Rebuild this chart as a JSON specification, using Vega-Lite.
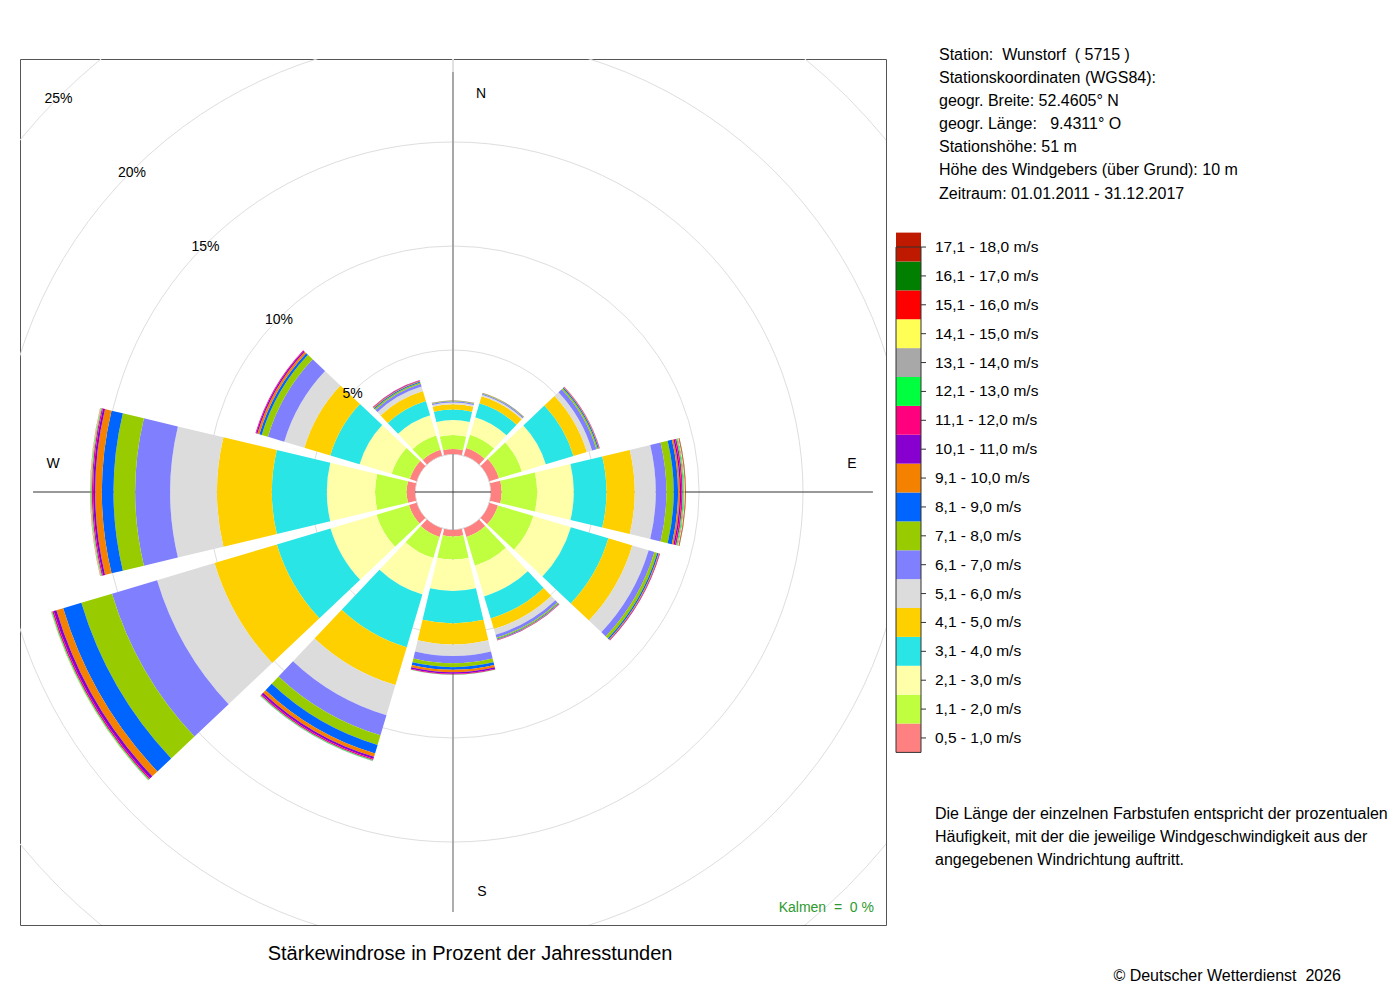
{
  "$schema": "https://vega.github.io/schema/vega-lite/v6.json",
  "width": 866,
  "height": 866,
  "autosize": {"type": "none"},
  "padding": {"left": 20, "top": 59, "right": 514, "bottom": 75},
  "background": "white",
  "datasets": {
    "classes": [
      {"cls": 0, "label": "0,5 - 1,0 m/s"},
      {"cls": 1, "label": "1,1 - 2,0 m/s"},
      {"cls": 2, "label": "2,1 - 3,0 m/s"},
      {"cls": 3, "label": "3,1 - 4,0 m/s"},
      {"cls": 4, "label": "4,1 - 5,0 m/s"},
      {"cls": 5, "label": "5,1 - 6,0 m/s"},
      {"cls": 6, "label": "6,1 - 7,0 m/s"},
      {"cls": 7, "label": "7,1 - 8,0 m/s"},
      {"cls": 8, "label": "8,1 - 9,0 m/s"},
      {"cls": 9, "label": "9,1 - 10,0 m/s"},
      {"cls": 10, "label": "10,1 - 11,0 m/s"},
      {"cls": 11, "label": "11,1 - 12,0 m/s"},
      {"cls": 12, "label": "12,1 - 13,0 m/s"},
      {"cls": 13, "label": "13,1 - 14,0 m/s"},
      {"cls": 14, "label": "14,1 - 15,0 m/s"},
      {"cls": 15, "label": "15,1 - 16,0 m/s"},
      {"cls": 16, "label": "16,1 - 17,0 m/s"},
      {"cls": 17, "label": "17,1 - 18,0 m/s"}
    ],
    "rose": [
      {"dir": 0, "cls": 0, "pct": 0.24}, {"dir": 0, "cls": 1, "pct": 0.67}, {"dir": 0, "cls": 2, "pct": 0.72}, {"dir": 0, "cls": 3, "pct": 0.51}, {"dir": 0, "cls": 4, "pct": 0.25},
      {"dir": 0, "cls": 5, "pct": 0.08}, {"dir": 0, "cls": 6, "pct": 0.06}, {"dir": 0, "cls": 7, "pct": 0.024}, {"dir": 0, "cls": 8, "pct": 0.014}, {"dir": 0, "cls": 9, "pct": 0.01},
      {"dir": 30, "cls": 0, "pct": 0.38}, {"dir": 30, "cls": 1, "pct": 0.67}, {"dir": 30, "cls": 2, "pct": 0.87}, {"dir": 30, "cls": 3, "pct": 0.70}, {"dir": 30, "cls": 4, "pct": 0.36},
      {"dir": 30, "cls": 5, "pct": 0.07}, {"dir": 30, "cls": 6, "pct": 0.05}, {"dir": 30, "cls": 7, "pct": 0.024}, {"dir": 30, "cls": 8, "pct": 0.014}, {"dir": 30, "cls": 9, "pct": 0.01},
      {"dir": 60, "cls": 0, "pct": 0.48}, {"dir": 60, "cls": 1, "pct": 1.15}, {"dir": 60, "cls": 2, "pct": 1.20}, {"dir": 60, "cls": 3, "pct": 1.39}, {"dir": 60, "cls": 4, "pct": 0.67},
      {"dir": 60, "cls": 5, "pct": 0.26}, {"dir": 60, "cls": 6, "pct": 0.22}, {"dir": 60, "cls": 7, "pct": 0.07}, {"dir": 60, "cls": 8, "pct": 0.05}, {"dir": 60, "cls": 9, "pct": 0.024},
      {"dir": 60, "cls": 10, "pct": 0.014}, {"dir": 60, "cls": 11, "pct": 0.01},
      {"dir": 90, "cls": 0, "pct": 0.51}, {"dir": 90, "cls": 1, "pct": 1.71}, {"dir": 90, "cls": 2, "pct": 1.76}, {"dir": 90, "cls": 3, "pct": 1.57}, {"dir": 90, "cls": 4, "pct": 1.36},
      {"dir": 90, "cls": 5, "pct": 1.01}, {"dir": 90, "cls": 6, "pct": 0.51}, {"dir": 90, "cls": 7, "pct": 0.35}, {"dir": 90, "cls": 8, "pct": 0.21}, {"dir": 90, "cls": 9, "pct": 0.08},
      {"dir": 90, "cls": 10, "pct": 0.07}, {"dir": 90, "cls": 11, "pct": 0.07}, {"dir": 90, "cls": 12, "pct": 0.05}, {"dir": 90, "cls": 13, "pct": 0.04}, {"dir": 90, "cls": 14, "pct": 0.024},
      {"dir": 90, "cls": 15, "pct": 0.024}, {"dir": 90, "cls": 16, "pct": 0.01}, {"dir": 90, "cls": 17, "pct": 0.01},
      {"dir": 120, "cls": 0, "pct": 0.43}, {"dir": 120, "cls": 1, "pct": 1.78}, {"dir": 120, "cls": 2, "pct": 1.88}, {"dir": 120, "cls": 3, "pct": 1.88}, {"dir": 120, "cls": 4, "pct": 1.20},
      {"dir": 120, "cls": 5, "pct": 0.82}, {"dir": 120, "cls": 6, "pct": 0.29}, {"dir": 120, "cls": 7, "pct": 0.14}, {"dir": 120, "cls": 8, "pct": 0.07}, {"dir": 120, "cls": 9, "pct": 0.04},
      {"dir": 120, "cls": 10, "pct": 0.024}, {"dir": 120, "cls": 11, "pct": 0.01},
      {"dir": 150, "cls": 0, "pct": 0.43}, {"dir": 150, "cls": 1, "pct": 1.44}, {"dir": 150, "cls": 2, "pct": 1.54}, {"dir": 150, "cls": 3, "pct": 1.11}, {"dir": 150, "cls": 4, "pct": 0.53},
      {"dir": 150, "cls": 5, "pct": 0.29}, {"dir": 150, "cls": 6, "pct": 0.14}, {"dir": 150, "cls": 7, "pct": 0.06}, {"dir": 150, "cls": 8, "pct": 0.034}, {"dir": 150, "cls": 9, "pct": 0.024},
      {"dir": 150, "cls": 10, "pct": 0.014}, {"dir": 150, "cls": 11, "pct": 0.01},
      {"dir": 180, "cls": 0, "pct": 0.31}, {"dir": 180, "cls": 1, "pct": 1.11}, {"dir": 180, "cls": 2, "pct": 1.51}, {"dir": 180, "cls": 3, "pct": 1.56}, {"dir": 180, "cls": 4, "pct": 1.01},
      {"dir": 180, "cls": 5, "pct": 0.55}, {"dir": 180, "cls": 6, "pct": 0.35}, {"dir": 180, "cls": 7, "pct": 0.19}, {"dir": 180, "cls": 8, "pct": 0.13}, {"dir": 180, "cls": 9, "pct": 0.12},
      {"dir": 180, "cls": 10, "pct": 0.07}, {"dir": 180, "cls": 11, "pct": 0.034}, {"dir": 180, "cls": 12, "pct": 0.014},
      {"dir": 210, "cls": 0, "pct": 0.43}, {"dir": 210, "cls": 1, "pct": 1.06}, {"dir": 210, "cls": 2, "pct": 1.83}, {"dir": 210, "cls": 3, "pct": 2.64}, {"dir": 210, "cls": 4, "pct": 1.90},
      {"dir": 210, "cls": 5, "pct": 1.51}, {"dir": 210, "cls": 6, "pct": 1.01}, {"dir": 210, "cls": 7, "pct": 0.48}, {"dir": 210, "cls": 8, "pct": 0.43}, {"dir": 210, "cls": 9, "pct": 0.17},
      {"dir": 210, "cls": 10, "pct": 0.10}, {"dir": 210, "cls": 11, "pct": 0.06}, {"dir": 210, "cls": 12, "pct": 0.034}, {"dir": 210, "cls": 13, "pct": 0.024},
      {"dir": 240, "cls": 0, "pct": 0.38}, {"dir": 240, "cls": 1, "pct": 1.63}, {"dir": 240, "cls": 2, "pct": 2.31}, {"dir": 240, "cls": 3, "pct": 2.69}, {"dir": 240, "cls": 4, "pct": 3.13},
      {"dir": 240, "cls": 5, "pct": 2.88}, {"dir": 240, "cls": 6, "pct": 2.26}, {"dir": 240, "cls": 7, "pct": 1.54}, {"dir": 240, "cls": 8, "pct": 0.91}, {"dir": 240, "cls": 9, "pct": 0.34},
      {"dir": 240, "cls": 10, "pct": 0.14}, {"dir": 240, "cls": 11, "pct": 0.07}, {"dir": 240, "cls": 12, "pct": 0.04}, {"dir": 240, "cls": 13, "pct": 0.024}, {"dir": 240, "cls": 14, "pct": 0.01},
      {"dir": 270, "cls": 0, "pct": 0.40}, {"dir": 270, "cls": 1, "pct": 1.52}, {"dir": 270, "cls": 2, "pct": 2.32}, {"dir": 270, "cls": 3, "pct": 2.64}, {"dir": 270, "cls": 4, "pct": 2.64},
      {"dir": 270, "cls": 5, "pct": 2.25}, {"dir": 270, "cls": 6, "pct": 1.68}, {"dir": 270, "cls": 7, "pct": 1.04}, {"dir": 270, "cls": 8, "pct": 0.56}, {"dir": 270, "cls": 9, "pct": 0.32},
      {"dir": 270, "cls": 10, "pct": 0.10}, {"dir": 270, "cls": 11, "pct": 0.06}, {"dir": 270, "cls": 12, "pct": 0.034}, {"dir": 270, "cls": 13, "pct": 0.024}, {"dir": 270, "cls": 14, "pct": 0.014},
      {"dir": 270, "cls": 15, "pct": 0.01},
      {"dir": 300, "cls": 0, "pct": 0.34}, {"dir": 300, "cls": 1, "pct": 0.91}, {"dir": 300, "cls": 2, "pct": 1.61}, {"dir": 300, "cls": 3, "pct": 1.47}, {"dir": 300, "cls": 4, "pct": 1.30},
      {"dir": 300, "cls": 5, "pct": 1.01}, {"dir": 300, "cls": 6, "pct": 0.82}, {"dir": 300, "cls": 7, "pct": 0.31}, {"dir": 300, "cls": 8, "pct": 0.12}, {"dir": 300, "cls": 9, "pct": 0.10},
      {"dir": 300, "cls": 10, "pct": 0.06}, {"dir": 300, "cls": 11, "pct": 0.034},
      {"dir": 330, "cls": 0, "pct": 0.29}, {"dir": 330, "cls": 1, "pct": 0.72}, {"dir": 330, "cls": 2, "pct": 1.01}, {"dir": 330, "cls": 3, "pct": 0.72}, {"dir": 330, "cls": 4, "pct": 0.50},
      {"dir": 330, "cls": 5, "pct": 0.22}, {"dir": 330, "cls": 6, "pct": 0.14}, {"dir": 330, "cls": 7, "pct": 0.07}, {"dir": 330, "cls": 8, "pct": 0.05}, {"dir": 330, "cls": 9, "pct": 0.04},
      {"dir": 330, "cls": 10, "pct": 0.024}, {"dir": 330, "cls": 11, "pct": 0.01}
    ],
    "rings": [
      {"p": 0, "label": ""}, {"p": 5, "label": "5%"}, {"p": 10, "label": "10%"},
      {"p": 15, "label": "15%"}, {"p": 20, "label": "20%"}, {"p": 25, "label": "25%"}
    ]
  },
  "layer": [
    {
      "layer": [
        {
          "data": {"name": "rings"},
          "mark": {"type": "arc", "fill": "transparent", "stroke": "#dedede", "strokeWidth": 1, "clip": true},
          "encoding": {
            "theta": {"datum": 0, "type": "quantitative", "scale": {"domain": [0, 360], "range": [0, 6.283185307]}, "stack": null},
            "theta2": {"datum": 360},
            "radius": {"field": "p", "type": "quantitative", "scale": {"type": "linear", "domain": [0, 25], "range": [38, 558], "zero": false}, "stack": null}
          }
        },
        {
          "data": {"values": [{"x": 0, "y": -20.19, "y2": 20.19}]},
          "mark": {"type": "rule", "color": "#999999", "strokeWidth": 1.6},
          "encoding": {
            "x": {"field": "x", "type": "quantitative", "scale": {"domain": [-20.8173, 20.8173], "nice": false, "zero": false}, "axis": null},
            "y": {"field": "y", "type": "quantitative", "scale": {"domain": [-20.8173, 20.8173], "nice": false, "zero": false}, "axis": null},
            "y2": {"field": "y2"}
          }
        },
        {
          "data": {"values": [{"x": -20.19, "x2": 20.19, "y": 0}]},
          "mark": {"type": "rule", "color": "#333333", "strokeWidth": 1},
          "encoding": {
            "x": {"field": "x", "type": "quantitative", "axis": null},
            "x2": {"field": "x2"},
            "y": {"field": "y", "type": "quantitative", "axis": null}
          }
        },
        {
          "data": {"name": "rose"},
          "transform": [
            {"stack": "pct", "groupby": ["dir"], "sort": [{"field": "cls", "order": "ascending"}], "as": ["r0", "r1"]},
            {"calculate": "datum.dir - 13.4", "as": "a0"},
            {"calculate": "datum.dir + 13.4", "as": "a1"}
          ],
          "mark": {"type": "arc"},
          "encoding": {
            "theta": {"field": "a0", "type": "quantitative", "stack": null},
            "theta2": {"field": "a1"},
            "radius": {"field": "r1", "type": "quantitative", "stack": null},
            "radius2": {"field": "r0"},
            "color": {
              "field": "cls",
              "type": "ordinal",
              "scale": {
                "domain": [0, 1, 2, 3, 4, 5, 6, 7, 8, 9, 10, 11, 12, 13, 14, 15, 16, 17],
                "range": ["#FF8080", "#BFFF3F", "#FFFFAA", "#2AE5E5", "#FFD000", "#DCDCDC", "#8080FF", "#99CC00", "#0064FF",
                          "#F48200", "#8800D0", "#FF007F", "#00FF3F", "#A8A8A8", "#FFFF55", "#FF0000", "#007F00", "#BF1A00"]
              },
              "legend": null
            }
          }
        },
        {
          "data": {"name": "rings"},
          "transform": [{"filter": "datum.p > 0"}],
          "mark": {"type": "text", "font": "Liberation Sans", "fontSize": 14, "color": "black", "align": "center", "baseline": "middle", "dy": 2},
          "encoding": {
            "theta": {"datum": 315, "type": "quantitative", "stack": null},
            "radius": {"field": "p", "type": "quantitative", "stack": null},
            "text": {"field": "label"}
          }
        },
        {
          "data": {"values": [
            {"label": "N", "x": 1.35, "y": 19.13},
            {"label": "E", "x": 19.18, "y": 1.35},
            {"label": "S", "x": 1.39, "y": -19.23},
            {"label": "W", "x": -19.23, "y": 1.35}
          ]},
          "mark": {"type": "text", "font": "Liberation Sans", "fontSize": 14, "color": "black", "align": "center", "baseline": "middle"},
          "encoding": {
            "x": {"field": "x", "type": "quantitative", "axis": null},
            "y": {"field": "y", "type": "quantitative", "axis": null},
            "text": {"field": "label"}
          }
        },
        {
          "data": {"values": [{"label": "Kalmen\u00a0 =\u00a0 0 %", "x": 20.24, "y": -20.0}]},
          "mark": {"type": "text", "font": "Liberation Sans", "fontSize": 14, "color": "#2E992E", "align": "right", "baseline": "middle"},
          "encoding": {
            "x": {"field": "x", "type": "quantitative", "axis": null},
            "y": {"field": "y", "type": "quantitative", "axis": null},
            "text": {"field": "label"}
          }
        },
        {
          "data": {"values": [{"label": "Stärkewindrose in Prozent der Jahresstunden", "x": 0.82, "y": -22.21}]},
          "mark": {"type": "text", "font": "Liberation Sans", "fontSize": 20, "color": "black", "align": "center", "baseline": "middle"},
          "encoding": {
            "x": {"field": "x", "type": "quantitative", "axis": null},
            "y": {"field": "y", "type": "quantitative", "axis": null},
            "text": {"field": "label"}
          }
        }
      ]
    },
    {
      "data": {"name": "classes"},
      "encoding": {
        "y": {
          "field": "cls",
          "type": "ordinal",
          "scale": {"domain": [17, 16, 15, 14, 13, 12, 11, 10, 9, 8, 7, 6, 5, 4, 3, 2, 1, 0], "range": [173.6, 693.4], "paddingInner": 0, "paddingOuter": 0},
          "axis": null
        }
      },
      "layer": [
        {
          "mark": {"type": "rect"},
          "encoding": {
            "x": {"datum": 0, "type": "quantitative", "scale": {"domain": [0, 1], "range": [876, 901]}, "axis": null},
            "x2": {"datum": 1},
            "color": {"field": "cls", "type": "ordinal", "legend": null}
          }
        },
        {
          "mark": {"type": "rule", "color": "#333333", "strokeWidth": 1},
          "encoding": {
            "x": {"datum": 1, "type": "quantitative"},
            "x2": {"datum": 1.2}
          }
        },
        {
          "mark": {"type": "text", "font": "Liberation Sans", "fontSize": 15.5, "color": "black", "align": "left", "baseline": "middle", "dx": 14},
          "encoding": {
            "x": {"datum": 1, "type": "quantitative"},
            "text": {"field": "label"}
          }
        }
      ]
    },
    {
      "data": {"values": [{"top": 17, "bottom": 0}]},
      "mark": {"type": "rect", "fill": "transparent", "stroke": "#333333", "strokeWidth": 1, "y2Offset": 14.44},
      "encoding": {
        "x": {"datum": 0, "type": "quantitative", "scale": {"domain": [0, 1], "range": [876, 901]}, "axis": null},
        "x2": {"datum": 1},
        "y": {"field": "top", "type": "ordinal", "scale": {"domain": [17, 16, 15, 14, 13, 12, 11, 10, 9, 8, 7, 6, 5, 4, 3, 2, 1, 0], "range": [173.6, 693.4], "paddingInner": 0, "paddingOuter": 0}, "axis": null},
        "y2": {"field": "bottom"}
      }
    },
    {
      "data": {"values": [
        {"line": 0, "text": "Station:\u00a0 Wunstorf\u00a0 ( 5715 )"},
        {"line": 1, "text": "Stationskoordinaten (WGS84):"},
        {"line": 2, "text": "geogr. Breite: 52.4605° N"},
        {"line": 3, "text": "geogr. Länge:\u00a0\u00a0 9.4311° O"},
        {"line": 4, "text": "Stationshöhe: 51 m"},
        {"line": 5, "text": "Höhe des Windgebers (über Grund): 10 m"},
        {"line": 6, "text": "Zeitraum: 01.01.2011 - 31.12.2017"}
      ]},
      "mark": {"type": "text", "font": "Liberation Sans", "fontSize": 16, "color": "black", "align": "left", "baseline": "middle"},
      "encoding": {
        "x": {"datum": 0, "type": "quantitative", "scale": {"domain": [0, 1], "range": [919, 1019]}, "axis": null},
        "y": {"field": "line", "type": "quantitative", "scale": {"domain": [0, 6], "range": [-4, 134.5]}, "axis": null},
        "text": {"field": "text"}
      }
    },
    {
      "data": {"values": [
        {"line": 0, "text": "Die Länge der einzelnen Farbstufen entspricht der prozentualen"},
        {"line": 1, "text": "Häufigkeit, mit der die jeweilige Windgeschwindigkeit aus der"},
        {"line": 2, "text": "angegebenen Windrichtung auftritt."}
      ]},
      "mark": {"type": "text", "font": "Liberation Sans", "fontSize": 16, "color": "black", "align": "left", "baseline": "middle"},
      "encoding": {
        "x": {"datum": 0, "type": "quantitative", "scale": {"domain": [0, 1], "range": [915, 1015]}, "axis": null},
        "y": {"field": "line", "type": "quantitative", "scale": {"domain": [0, 2], "range": [755, 801]}, "axis": null},
        "text": {"field": "text"}
      }
    },
    {
      "data": {"values": [{"line": 0, "text": "© Deutscher Wetterdienst\u00a0 2026"}]},
      "mark": {"type": "text", "font": "Liberation Sans", "fontSize": 16, "color": "black", "align": "right", "baseline": "middle"},
      "encoding": {
        "x": {"datum": 1, "type": "quantitative", "scale": {"domain": [0, 1], "range": [1221, 1321]}, "axis": null},
        "y": {"field": "line", "type": "quantitative", "scale": {"domain": [0, 1], "range": [917, 940]}, "axis": null},
        "text": {"field": "text"}
      }
    }
  ],
  "resolve": {"scale": {"x": "independent", "y": "independent"}},
  "config": {
    "view": {"stroke": "#555555", "strokeWidth": 1},
    "font": "Liberation Sans"
  }
}
